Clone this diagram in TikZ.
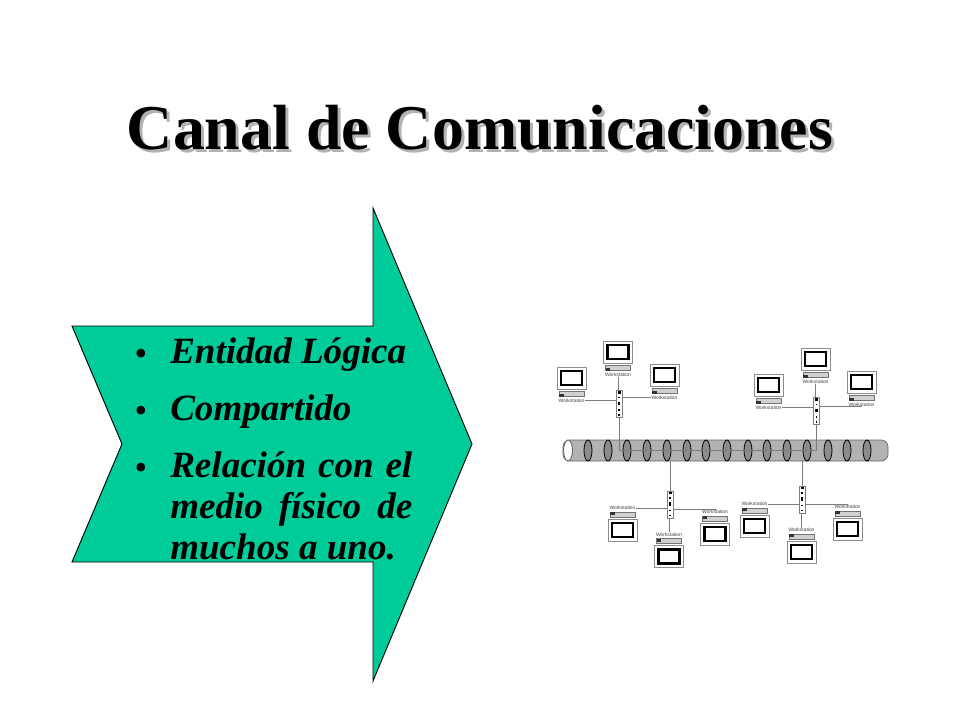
\documentclass[tikz,border=0pt]{standalone}
\usepackage{fontspec}
\setmainfont{Liberation Serif}
\setsansfont{Liberation Sans}
\definecolor{arrowgreen}{RGB}{0,204,153}
\definecolor{tubegray}{RGB}{178,178,178}
\definecolor{ringgray}{RGB}{140,140,140}
\definecolor{wiregray}{RGB}{125,125,125}
\tikzset{
  wire/.style={draw=wiregray,line width=0.6pt},
  hubbox/.style={draw=wiregray,fill=white,line width=0.5pt,minimum width=4.6pt,minimum height=20pt,inner sep=0pt,
    path picture={
      \fill[black] ([xshift=-0.8pt,yshift=-2.2pt]path picture bounding box.north) rectangle ++(2.2pt,2pt);
      \fill[black] ([xshift=-0.8pt,yshift=-1pt]path picture bounding box.center) rectangle ++(1.6pt,2.6pt);
      \fill[black] ([xshift=-0.5pt,yshift=4.5pt]path picture bounding box.center) rectangle ++(1pt,1pt);
      \fill[black] ([xshift=-0.5pt,yshift=-5pt]path picture bounding box.center) rectangle ++(1pt,1pt);
      \fill[black] ([xshift=-0.6pt,yshift=1.2pt]path picture bounding box.south) rectangle ++(1.2pt,1.2pt);
    }},
  pclabel/.style={font=\sffamily\fontsize{3.7}{4}\selectfont,text=black!75,inner sep=0pt},
  itemtext/.style={font=\fontsize{27.8}{30.75}\selectfont\bfseries\itshape,inner sep=0pt},
  titletext/.style={font=\fontsize{47.9}{52}\selectfont\bfseries,anchor=base,inner sep=0pt},
  pics/pcup/.style={code={
    \draw[draw=black!45,fill=white,line width=0.5pt] (-14.5,-11) rectangle (14.5,11);
    \draw[line width=1.6pt] (-10.5,-7) rectangle (10.5,7);
    \draw[draw=black!55,fill=black!18,line width=0.4pt] (-12.5,-18.5) rectangle (12.5,-13.5);
    \fill[black!80] (-12.5,-18.5) rectangle (-8,-15.5);
    \node[pclabel] (-label) at (0,-22.5) {Workstation};
  }},
  pics/pcdown/.style={code={
    \draw[draw=black!45,fill=white,line width=0.5pt] (-14.5,-11) rectangle (14.5,11);
    \draw[line width=1.6pt] (-10.5,-7) rectangle (10.5,7);
    \draw[draw=black!55,fill=black!18,line width=0.4pt] (-12.5,13) rectangle (12.5,18);
    \fill[black!80] (-12.5,15) rectangle (-8,18);
    \node[pclabel] (-label) at (0,22) {Workstation};
  }},
}
\begin{document}
\begin{tikzpicture}[x=0.75pt,y=0.75pt,yscale=-1,xscale=1]
\useasboundingbox (0,0) rectangle (960,720);

% title
\node[titletext,text=black!30] (titleshadow) at (483,153) {Canal de Comunicaciones};
\node[titletext] (title) at (480,150) {Canal de Comunicaciones};

% arrow
\draw[fill=arrowgreen,line width=0.7pt] (72,326) -- (373,326) -- (373,208) -- (472,444) -- (373,681) -- (373,562) -- (72,562) -- (122,444) -- cycle;

\node[itemtext,anchor=base west] (itemA) at (170,363) {Entidad Lógica};
\node[itemtext,anchor=base west] (itemB) at (170,420) {Compartido};
\node[itemtext,anchor=north west,text width=181.5pt,align=justify] (itemC) at (170,451) {Relación con el medio físico de muchos a uno.};
\foreach \y/\n in {365/A,422/B,479/C}
  \node[font=\fontsize{27}{30}\selectfont,anchor=base,inner sep=0pt] (dot\n) at (141,\y) {•};

% cable
\node[draw=black!60,fill=tubegray,rounded corners=5pt,minimum width=243.75pt,minimum height=15.75pt,inner sep=0pt,line width=0.5pt] (tube) at (725.5,450.5) {};
\draw[draw=black!60,fill=white,line width=0.7pt] (568,450.5) ellipse [x radius=4.5,y radius=10.5];
\foreach \x in {588,608,627,647,667,687,706,727,748,767,787,807,828,847,867}
  \draw[fill=ringgray,line width=0.6pt] (\x,450.5) ellipse [x radius=4,y radius=10.5];

% hubs
\node[hubbox] (hubA) at (619,404) {};
\node[hubbox] (hubB) at (816.5,411) {};
\node[hubbox] (hubC) at (670,504.5) {};
\node[hubbox] (hubD) at (802,499.5) {};

% computers
\path (571.5,378) pic (pcA) {pcup};
\path (618,352) pic (pcB) {pcup};
\path (664.5,375) pic (pcC) {pcup};
\path (768.5,385) pic (pcD) {pcup};
\path (815.5,359) pic (pcE) {pcup};
\path (861.5,382) pic (pcF) {pcup};
\path (622.5,530) pic (pcG) {pcdown};
\path (669,556.5) pic (pcH) {pcdown};
\path (715,534) pic (pcI) {pcdown};
\path (754.5,526) pic (pcJ) {pcdown};
\path (801.5,552) pic (pcK) {pcdown};
\path (847.5,529) pic (pcL) {pcdown};

% connectors
\draw[wire] (hubA.south) -- (hubA.south |- tube.center) -- (hubB.south |- tube.center) -- (hubB.south);
\draw[wire] (hubC.north) -- (hubC.north |- tube.south);
\draw[wire] (hubD.north) -- (hubD.north |- tube.south);
\draw[wire] (pcA-label) -- (hubA.west |- pcA-label);
\draw[wire] (pcB-label.south) -- (hubA.north -| pcB-label);
\draw[wire] (pcC-label) -- (hubA.east |- pcC-label);
\draw[wire] (pcD-label) -- (hubB.west |- pcD-label);
\draw[wire] (pcE-label.south) -- (hubB.north -| pcE-label);
\draw[wire] (pcF-label.south) |- ([yshift=-3.5pt]hubB.east);
\draw[wire] (pcG-label) -- (hubC.west |- pcG-label);
\draw[wire] (pcH-label.north) -- (hubC.south -| pcH-label);
\draw[wire] (pcI-label.north) |- ([yshift=3.8pt]hubC.east);
\draw[wire] (pcJ-label) -- (hubD.west |- pcJ-label);
\draw[wire] (pcK-label.north) -- (hubD.south -| pcK-label);
\draw[wire] (pcL-label.north) |- ([yshift=4pt]hubD.east);

\end{tikzpicture}
\end{document}
